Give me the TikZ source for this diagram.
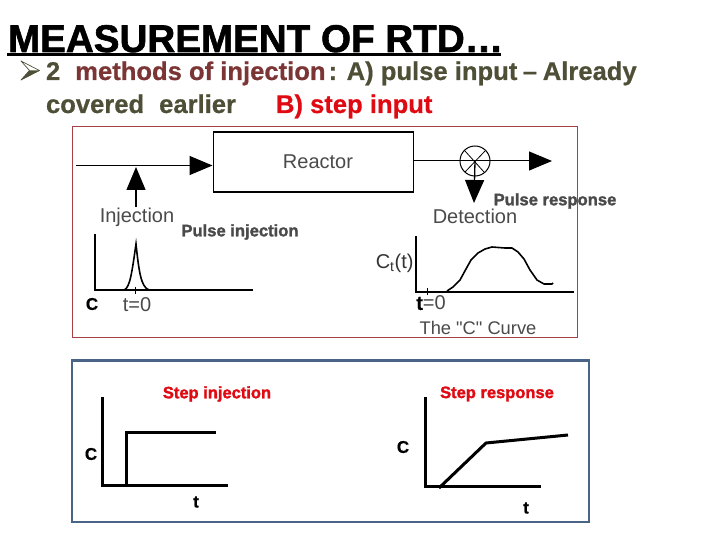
\documentclass[tikz,border=0pt]{standalone}
\usepackage{fontspec}
\setmainfont{Liberation Sans}
\newfontfamily\plain{Liberation Sans}
\newfontfamily\heavy[BoldFeatures={FakeBold=1.6}]{Liberation Sans}
\newfontfamily\semi[BoldFeatures={FakeBold=0.6}]{Liberation Sans}
\usetikzlibrary{arrows.meta}
\definecolor{olive}{HTML}{4F4F38}
\definecolor{brownred}{HTML}{7C3535}
\definecolor{redline}{HTML}{E00A12}
\definecolor{boxred}{HTML}{A84048}
\definecolor{boxblue}{HTML}{4A6487}
\definecolor{graytxt}{HTML}{4A4A4A}
\tikzset{
  txt/.style={inner sep=0pt,outer sep=0pt},
  plotline/.style={line width=1.8pt,black},
  stepline/.style={line width=3pt,black},
  flow/.style={line width=1.3pt,black,-{Triangle[length=23pt,width=19pt]}},
  redlabel/.style={txt,text=redline,font=\fontsize{16.5}{16.5}\selectfont\heavy\bfseries},
  graylabel/.style={txt,text=graytxt,font=\fontsize{16.6}{16.6}\selectfont\heavy\bfseries},
  figlabel/.style={txt,text=graytxt,font=\fontsize{20}{20}\selectfont\plain},
  axlabel/.style={txt,text=black,font=\fontsize{17}{17}\selectfont\semi\bfseries},
  headline/.style={txt,anchor=base west,font=\fontsize{25.6}{25.6}\selectfont\semi\bfseries,text=olive},
}
\begin{document}
\begin{tikzpicture}[x=1pt,y=-1pt]
\useasboundingbox[fill=white] (0,0) rectangle (720,540);
% title
\node[txt,anchor=base west,font=\fontsize{38.6}{38.6}\selectfont\heavy\bfseries] (title) at (8,52) {MEASUREMENT OF RTD…};
\coordinate (ula) at (7,54.5); \coordinate (ulb) at (501,54.5);
\draw[line width=2.2pt] (ula) -- (ulb);
% bullet glyph
\draw[olive,line width=.7pt,line join=round] (21,61) -- (39.5,70.5) -- (21,80) -- (29.5,70.5) -- cycle;
\fill[olive] (39.5,70.5) -- (21,80) -- (29.5,70.5) -- cycle;
\node[headline] (l1) at (46,80)
 {2\hspace{15pt}\textcolor{brownred}{methods of injection}\hspace{-4pt} : A) pulse input\hspace{-1.5pt} – \hspace{-1.5pt}Already};
\node[headline] (l2a) at (46,113) {covered\hspace{15pt}earlier};
\node[headline,text=redline] (l2b) at (276,113) {B) step input};
% red frame
\draw[boxred,line width=1pt] (72.5,126.5) rectangle (577,337);
% reactor
\node[draw,line width=1.6pt,minimum width=200pt,minimum height=60pt,inner sep=0pt,anchor=north west] (reactor) at (212.5,131) {};
\node[figlabel] (reactorlabel) at (318,161.5) {Reactor};
\coordinate (inflow) at (76,165.5);
\draw[flow] (inflow) -- (inflow -| reactor.west);
\node[figlabel] (inj) at (137,217) {Injection};
\coordinate (injtop) at (136,167);
\coordinate (injbot) at (136,207);
\draw[flow] (injbot) -- (injtop);
\node[graylabel] (pinj) at (240,232) {Pulse injection};
% left plot
\coordinate (lo) at (95,290);
\coordinate (ltop) at (95,234);
\coordinate (lend) at (253,290);
\draw[plotline] (ltop) -- (lo) -- (lend);
\draw[black,line width=.8pt] (135,287) -- (135,294);
\draw[line width=1.6pt] (124,290) .. controls (130,288) and (132,272) .. (136,244) .. controls (139,272) and (141,287) .. (149,290);
\node[axlabel] (cl) at (92,304) {C};
\node[figlabel] (t0l) at (137,305) {t=0};
% right side
\node[circle,draw,line width=1pt,minimum size=30pt,inner sep=0pt] (det) at (475,161) {};
\coordinate (outend) at (552,161);
\draw[flow,line width=1pt] (reactor.east |- det) -- (outend);
\draw[line width=.8pt] (465,151) -- (484,172) (485,151) -- (465,172);
\coordinate (dettip) at (474,203);
\draw[flow] (det.center) -- (dettip);
\node[figlabel] (detl) at (475,216) {Detection};
\node[graylabel] (presp) at (555,201) {Pulse response};
% right plot
\coordinate (ro) at (416,292);
\coordinate (rtop) at (416,236);
\coordinate (rend) at (574,292);
\draw[plotline] (rtop) -- (ro) -- (rend);
\draw[black,line width=.8pt] (427,288) -- (427,295);
\draw[line width=1.6pt,line join=round] (447,291) -- (453,287) -- (460,280) -- (466,269) -- (471,260) -- (478,253) -- (485,249) -- (492,247) -- (505,248) -- (512,248) -- (518,252) -- (524,259) -- (530,270) -- (537,280) -- (544,284) -- (552,284) -- (553,283);
\node[figlabel,text=black!80,anchor=east] (ct) at (413.5,263) {C$_{\mathrm{t}}$(t)};
\node[figlabel] (t0r) at (431,303) {\textcolor{black}{\semi\bfseries t}=0};
\node[figlabel,font=\fontsize{18.3}{18.3}\selectfont\plain] (ccurve) at (478,328) {The "C" Curve};
% blue frame
\draw[boxblue,line width=2.6pt] (72,360.5) rectangle (589,522);
\node[redlabel] (sinj) at (217,394) {Step injection};
\node[redlabel] (sresp) at (497,394) {Step response};
% step injection plot
\coordinate (so) at (102,485); \coordinate (stop) at (102,397); \coordinate (send) at (228,485);
\draw[stepline,line join=miter] (stop) -- (so) -- (send);
\coordinate (sa) at (126,485); \coordinate (sb) at (126,432); \coordinate (sc) at (216,432);
\draw[stepline] (sa) -- (sb) -- (sc);
\node[axlabel] (cs) at (91,454) {C};
\node[axlabel] (ts) at (196,502) {t};
% step response plot
\coordinate (ro2) at (425,486); \coordinate (rtop2) at (425,397); \coordinate (rend2) at (541,486);
\draw[stepline] (rtop2) -- (ro2) -- (rend2);
\coordinate (ra) at (439,488); \coordinate (rb) at (486,443); \coordinate (rc) at (568,435);
\draw[stepline,line join=round] (ra) -- (rb) -- (rc);
\node[axlabel] (cr) at (403,447) {C};
\node[axlabel] (tr) at (526,508) {t};
\end{tikzpicture}
\end{document}
